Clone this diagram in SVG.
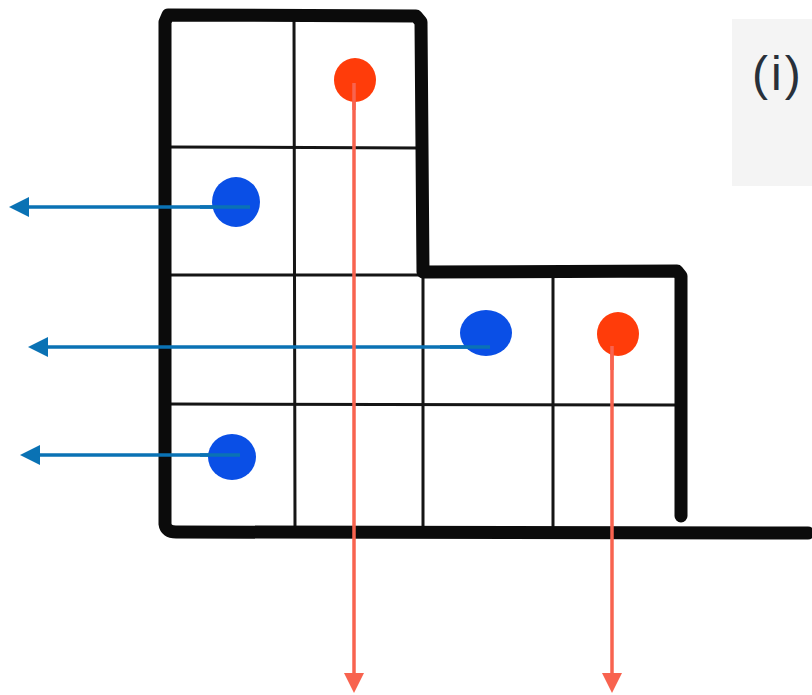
<svg xmlns="http://www.w3.org/2000/svg" width="812" height="695" viewBox="0 0 812 695">
  <defs>
    <style>
      .outline { fill: none; stroke: #0b0b0b; stroke-width: 13; stroke-linecap: round; stroke-linejoin: round; }
      .grid { fill: none; stroke: #151515; stroke-width: 3; stroke-linecap: round; }
      .blue-dot { fill: #0a4fe6; }
      .red-dot { fill: #ff3c0a; }
      .blue-arrow { fill: none; stroke: #0a72b4; stroke-width: 3.5; }
      .red-arrow { fill: none; stroke: #f8634f; stroke-width: 3.5; }
      .label { font-family: "Liberation Sans", Arial, sans-serif; font-size: 48px; fill: #28303a; }
    </style>
    <marker id="head-blue" viewBox="0 0 20 20" refX="2" refY="10" markerWidth="20" markerHeight="20" markerUnits="userSpaceOnUse" orient="auto">
      <path d="M0,0 L20,10 L0,20 Z" fill="#0a72b4"/>
    </marker>
    <marker id="head-red" viewBox="0 0 20 20" refX="2" refY="10" markerWidth="20" markerHeight="20" markerUnits="userSpaceOnUse" orient="auto">
      <path d="M0,0 L20,10 L0,20 Z" fill="#f8634f"/>
    </marker>
  </defs>

  <rect width="812" height="695" fill="#ffffff"/>

  <!-- label panel -->
  <g id="label-i">
    <rect x="732" y="19" width="80" height="167" fill="#f4f4f4"/>
    <text class="label" x="752" y="90" letter-spacing="3">(i)</text>
  </g>

  <!-- inner grid lines -->
  <g id="grid">
    <line class="grid" x1="294" y1="18" x2="295" y2="526"/>
    <line class="grid" x1="423" y1="276" x2="423" y2="526"/>
    <line class="grid" x1="553" y1="276" x2="553" y2="526"/>
    <line class="grid" x1="168" y1="147" x2="418" y2="148"/>
    <line class="grid" x1="168" y1="275" x2="420" y2="275"/>
    <line class="grid" x1="168" y1="404" x2="676" y2="405"/>
  </g>

  <!-- thick L-shaped boundary -->
  <g id="boundary">
    <path class="outline" d="M681,516 L681,276 L677,271 L423,272 L421,22 L416,16 L168,15 L165,22 L165,524 Q166,532 176,532 L808,533"/>
  </g>

  <!-- connectors -->
  <g id="connectors">
    <line class="blue-arrow" x1="250" y1="207" x2="27" y2="207" marker-end="url(#head-blue)"/>
    <line class="blue-arrow" x1="490" y1="347" x2="46" y2="347" marker-end="url(#head-blue)"/>
    <line class="blue-arrow" x1="240" y1="455" x2="38" y2="455" marker-end="url(#head-blue)"/>
    <line class="red-arrow" x1="354" y1="83" x2="354" y2="675" marker-end="url(#head-red)"/>
    <line class="red-arrow" x1="612" y1="346" x2="612" y2="675" marker-end="url(#head-red)"/>
  </g>

  <!-- dots -->
  <g id="dot-red-1"><ellipse class="red-dot" cx="355" cy="80" rx="21" ry="22"/></g>
  <g id="dot-blue-1"><ellipse class="blue-dot" cx="236" cy="202" rx="24" ry="25"/></g>
  <g id="dot-blue-2"><ellipse class="blue-dot" cx="486" cy="333" rx="26" ry="23"/></g>
  <g id="dot-red-2"><ellipse class="red-dot" cx="618" cy="334" rx="21" ry="22"/></g>
  <g id="dot-blue-3"><ellipse class="blue-dot" cx="232" cy="457" rx="24" ry="23"/></g>

  <!-- arrow tails run on top of the dots they start from -->
  <g id="connectors-over">
    <line class="blue-arrow" x1="250" y1="207" x2="200" y2="207"/>
    <line class="blue-arrow" x1="490" y1="347" x2="440" y2="347"/>
    <line class="blue-arrow" x1="240" y1="455" x2="200" y2="455"/>
    <line class="red-arrow" x1="354" y1="83" x2="354" y2="110"/>
    <line class="red-arrow" x1="612" y1="346" x2="612" y2="370"/>
  </g>
</svg>
